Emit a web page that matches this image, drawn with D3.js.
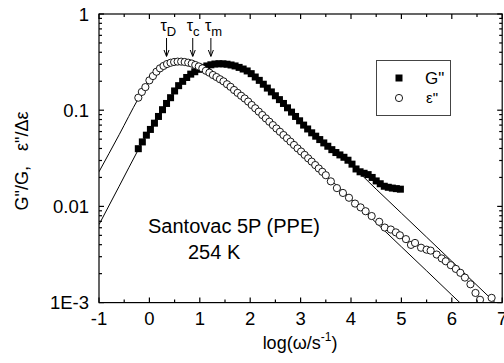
<!DOCTYPE html>
<html>
<head>
<meta charset="utf-8">
<script src="https://cdn.jsdelivr.net/npm/d3@7"></script>
<style>
  body { margin: 0; background: #fff; }
  text { font-family: "Liberation Sans", Arial, sans-serif; fill: #000; }
</style>
</head>
<body>
<svg id="chart" width="504" height="363"></svg>
<script>
// G'' (filled squares): log(omega) and G''/G
const gLogW = [-0.22,-0.14,-0.06,0.02,0.10,0.18,0.26,0.34,0.42,0.50,0.58,0.66,0.74,0.82,0.90,0.98,1.06,1.14,1.22,1.30,
  1.38,1.46,1.54,1.62,1.70,1.78,1.86,1.94,2.02,2.10,2.18,2.26,2.34,2.42,2.50,2.58,2.66,2.74,2.82,2.90,2.98,3.06,3.14,
  3.22,3.30,3.38,3.46,3.54,3.62,3.70,3.78,3.86,3.94,4.02,4.10,4.18,4.26,4.34,4.42,4.50,4.58,4.66,4.74,4.82,4.90,4.98]
const gVal = [0.0398,0.0468,0.0550,0.0631,0.0733,0.0861,0.1012,0.1175,0.1349,0.1585,0.1799,0.1995,0.2188,0.2371,0.2512,
  0.2661,0.2786,0.2884,0.2965,0.3020,0.3041,0.3034,0.3006,0.2951,0.2884,0.2786,0.2679,0.2559,0.2399,0.2213,0.2042,
  0.1862,0.1698,0.1549,0.1413,0.1288,0.1175,0.1059,0.0955,0.0861,0.0776,0.0700,0.0638,0.0582,0.0537,0.0495,0.0457,
  0.0422,0.0389,0.0363,0.0343,0.0324,0.0302,0.0275,0.0245,0.0229,0.0221,0.0214,0.0200,0.0184,0.0172,0.0162,0.0158,
  0.0155,0.0153,0.0151]

// eps'' (open circles): log(omega) and eps''/delta eps
const eLogW = [-0.22,-0.15,-0.08,0.00,0.07,0.14,0.21,0.28,0.35,0.42,0.49,0.56,0.63,0.70,0.77,0.84,0.91,0.98,1.05,1.12,
  1.19,1.26,1.33,1.40,1.47,1.54,1.61,1.68,1.75,1.82,1.89,1.96,2.03,2.10,2.17,2.24,2.31,2.38,2.45,2.52,2.59,2.66,2.73,
  2.80,2.87,2.94,3.01,3.08,3.15,3.22,3.29,3.36,3.43,3.50,3.60,3.72,3.84,3.96,4.08,4.19,4.29,4.41,4.56,4.67,4.79,4.89,
  4.97,5.09,5.19,5.27,5.39,5.50,5.58,5.70,5.80,5.88,5.98,6.08,6.17,6.26,6.37,6.47,6.56,6.79]
const eVal = [0.1349,0.1549,0.1738,0.2042,0.2265,0.2512,0.2723,0.2884,0.3020,0.3112,0.3170,0.3199,0.3199,0.3170,0.3119,
  0.3055,0.2951,0.2851,0.2723,0.2570,0.2455,0.2323,0.2213,0.2099,0.1995,0.1862,0.1750,0.1622,0.1514,0.1413,0.1324,
  0.1230,0.1132,0.1047,0.0966,0.0891,0.0822,0.0759,0.0700,0.0646,0.0597,0.0552,0.0511,0.0471,0.0435,0.0401,0.0372,
  0.0343,0.0316,0.0292,0.0269,0.0248,0.0229,0.0211,0.0182,0.0155,0.0138,0.0123,0.0107,0.00977,0.00891,0.00794,
  0.00692,0.00603,0.00575,0.00537,0.00501,0.00457,0.00398,0.00417,0.00372,0.00355,0.00347,0.00316,0.00288,0.00269,
  0.00245,0.00224,0.00204,0.00182,0.00155,0.00126,0.00107,0.00112]

// fit curves
const fitELogW = [-1,-0.6,-0.22,0,0.2,0.4,0.6,0.8,1.0,1.2,1.4,1.6,1.8,2.0,2.5,3.0,3.5,4.0,4.5,5.0,5.5,6.0,6.2]
const fitEVal = [0.0229,0.0556,0.1318,0.2042,0.2692,0.3090,0.3199,0.3090,0.2818,0.2427,0.2099,0.1758,0.1445,0.1175,
  0.0661,0.0372,0.0211,0.0120,0.00676,0.00380,0.00214,0.00120,0.000955]
const fitGLogW = [-1,-0.6,-0.22,0,0.2,0.4,0.6,0.8,1.0,1.2,1.4,1.6,1.8,2.0,2.2,2.4,2.6,2.8,3.0,3.5,4.0,4.5,5.0,5.5,6.0,6.5,7.0]
const fitGVal = [0.00646,0.0162,0.0389,0.0631,0.0933,0.1318,0.1758,0.2239,0.2661,0.2951,0.3041,0.2965,0.2754,0.2427,
  0.1995,0.1622,0.1288,0.1000,0.0759,0.0437,0.0269,0.0151,0.00851,0.00479,0.00269,0.00151,0.000851]

const xTicks = [-1,0,1,2,3,4,5,6,7]
const yTicks = [1,0.1,0.01,0.001]
const yTickLabels = ["1","0.1","0.01","1E-3"]
const tauNames = ["D","c","m"]
const tauLogW = [0.34,0.86,1.22]

let svg = d3.select("#chart")
let pLeft = 99, pRight = 502.2, pTop = 14, pBottom = 302.6

let xScale = d3.scaleLinear().domain([-1, 7]).range([pLeft, pRight])
let yScale = d3.scaleLog().domain([0.001, 1]).range([pBottom, pTop])

svg.append("clipPath").attr("id", "clip")
    .append("rect").attr("x", pLeft).attr("y", pTop)
    .attr("width", pRight - pLeft).attr("height", pBottom - pTop)

// fit lines
let fitLine = d3.line()
    .x(d => xScale(d[0]))
    .y(d => yScale(d[1]))
    .curve(d3.curveMonotoneX)
let plot = svg.append("g").attr("clip-path", "url(#clip)")
plot.append("path")
    .datum(d3.zip(fitELogW, fitEVal))
    .attr("d", fitLine)
    .attr("fill", "none").attr("stroke", "#000").attr("stroke-width", 1)
plot.append("path")
    .datum(d3.zip(fitGLogW, fitGVal))
    .attr("d", fitLine)
    .attr("fill", "none").attr("stroke", "#000").attr("stroke-width", 1)

// data
plot.selectAll(".sq").data(d3.zip(gLogW, gVal)).join("rect")
    .attr("class", "sq")
    .attr("x", d => xScale(d[0]) - 3.5)
    .attr("y", d => yScale(d[1]) - 3.5)
    .attr("width", 7).attr("height", 7)
    .attr("fill", "#000")
plot.selectAll(".ci").data(d3.zip(eLogW, eVal)).join("circle")
    .attr("class", "ci")
    .attr("cx", d => xScale(d[0]))
    .attr("cy", d => yScale(d[1]))
    .attr("r", 3.6)
    .attr("fill", "#fff").attr("stroke", "#000").attr("stroke-width", 0.9)

// axes
let xMinor = d3.range(-1, 7.01, 0.5)
let yMinor = []
for (let dec of [0.001, 0.01, 0.1]) for (let k = 2; k <= 9; k++) yMinor.push(dec * k)

let axisG = svg.append("g").attr("stroke", "#000").attr("stroke-width", 1.2)
axisG.append("rect").attr("x", pLeft).attr("y", pTop)
    .attr("width", pRight - pLeft).attr("height", pBottom - pTop).attr("fill", "none")
xMinor.forEach(v => {
    let len = Number.isInteger(v) ? 5 : 3
    axisG.append("line").attr("x1", xScale(v)).attr("x2", xScale(v)).attr("y1", pBottom).attr("y2", pBottom - len)
    axisG.append("line").attr("x1", xScale(v)).attr("x2", xScale(v)).attr("y1", pTop).attr("y2", pTop + len)
})
yTicks.concat(yMinor).forEach(v => {
    let len = yTicks.includes(v) ? 5 : 3
    axisG.append("line").attr("x1", pLeft).attr("x2", pLeft + len).attr("y1", yScale(v)).attr("y2", yScale(v))
    axisG.append("line").attr("x1", pRight).attr("x2", pRight - len).attr("y1", yScale(v)).attr("y2", yScale(v))
})

svg.selectAll(".xl").data(xTicks).join("text")
    .attr("x", d => xScale(d)).attr("y", 325)
    .attr("text-anchor", "middle").attr("font-size", 18.5)
    .text(d => d)
svg.selectAll(".yl").data(yTicks).join("text")
    .attr("x", 89).attr("y", d => yScale(d))
    .attr("dy", "0.36em")
    .attr("text-anchor", "end").attr("font-size", 18.5)
    .text((d, i) => yTickLabels[i])

// axis titles
let xt = svg.append("text").attr("x", 300).attr("y", 349)
    .attr("text-anchor", "middle").attr("font-size", 18)
xt.append("tspan").text("log(ω/s")
xt.append("tspan").attr("dy", -8).attr("font-size", 12).text("-1")
xt.append("tspan").attr("dy", 8).text(")")

svg.append("text")
    .attr("transform", "translate(28,161) rotate(-90)")
    .attr("text-anchor", "middle").attr("font-size", 18)
    .style("white-space", "pre")
    .text("G\"/G,   ε\"/Δε")

// sample text
svg.append("text").attr("x", 148).attr("y", 233).attr("font-size", 20).text("Santovac 5P (PPE)")
svg.append("text").attr("x", 188).attr("y", 259).attr("font-size", 20).text("254 K")

// tau arrows
tauLogW.forEach((v, i) => {
    let x = xScale(v)
    svg.append("line").attr("x1", x).attr("x2", x).attr("y1", 38).attr("y2", 56)
        .attr("stroke", "#000").attr("stroke-width", 1)
    svg.append("path").attr("d", `M${x - 2.5},${50} L${x},${56.5} L${x + 2.5},${50}`)
        .attr("fill", "none").attr("stroke", "#000").attr("stroke-width", 1)
    let t = svg.append("text").attr("x", x - 6).attr("y", 31).attr("font-size", 16)
    t.append("tspan").text("τ")
    t.append("tspan").attr("dy", 5).attr("font-size", 13).text(tauNames[i])
})

// legend
svg.append("rect").attr("x", 376.5).attr("y", 60.5).attr("width", 74).attr("height", 55)
    .attr("fill", "#fff").attr("stroke", "#444").attr("stroke-width", 1)
svg.append("rect").attr("x", 395.5).attr("y", 74.5).attr("width", 7).attr("height", 7).attr("fill", "#000")
svg.append("circle").attr("cx", 399).attr("cy", 98).attr("r", 3.6)
    .attr("fill", "#fff").attr("stroke", "#000").attr("stroke-width", 0.9)
svg.append("text").attr("x", 425).attr("y", 84).attr("font-size", 17).text("G\"")
svg.append("text").attr("x", 426).attr("y", 103).attr("font-size", 15).text("ε\"")
</script>
</body>
</html>
